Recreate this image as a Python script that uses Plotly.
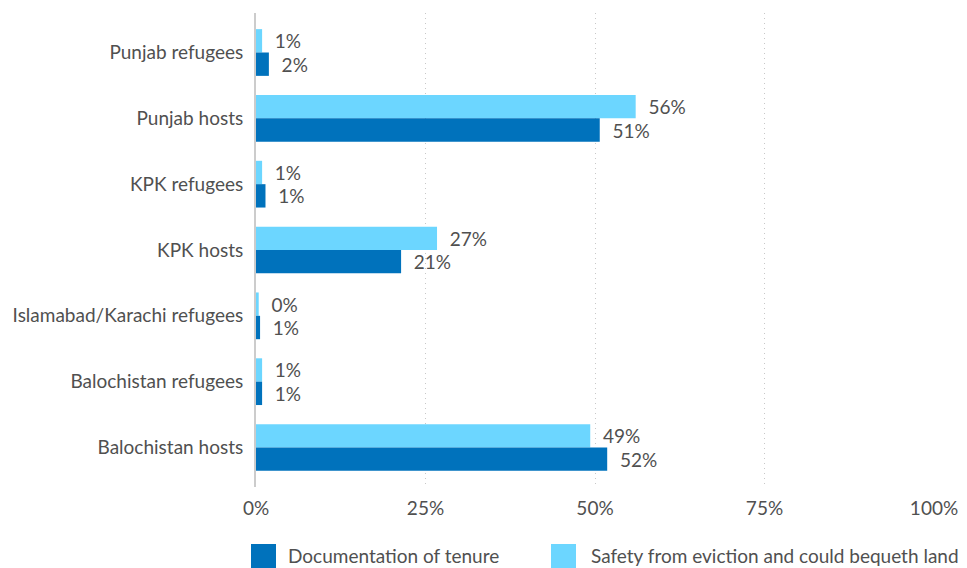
import plotly.graph_objects as go

categories = ["Punjab refugees", "Punjab hosts", "KPK refugees", "KPK hosts",
              "Islamabad/Karachi refugees", "Balochistan refugees", "Balochistan hosts"]
documentation = [1.9, 50.7, 1.4, 21.4, 0.6, 0.9, 51.8]
safety = [0.9, 56.0, 0.9, 26.7, 0.4, 0.9, 49.3]
series_names = ["Documentation of tenure", "Safety from eviction and could bequeth land"]
x_ticks = [0, 25, 50, 75, 100]
x_ticklabels = ["0%", "25%", "50%", "75%", "100%"]

DARK = "#0072BC"
LIGHT = "#6CD6FF"
TEXT = "#505050"
FONT = "Lato"
FS = 19

fig = go.Figure()
pad = "\u00a0\u00a0"
fig.add_trace(go.Bar(
    y=categories, x=safety, orientation="h", name=series_names[1],
    marker=dict(color=LIGHT, line=dict(width=0)),
    texttemplate=pad + "%{x:.0f}%", textposition="outside",
    textfont=dict(family=FONT, size=FS, color=TEXT), cliponaxis=False,
    showlegend=False,
))
fig.add_trace(go.Bar(
    y=categories, x=documentation, orientation="h", name=series_names[0],
    marker=dict(color=DARK, line=dict(width=0)),
    texttemplate=pad + "%{x:.0f}%", textposition="outside",
    textfont=dict(family=FONT, size=FS, color=TEXT), cliponaxis=False,
    showlegend=False,
))

fig.update_layout(
    width=967, height=568,
    margin=dict(l=256, r=33, t=13, b=81, autoexpand=False),
    paper_bgcolor="white", plot_bgcolor="white",
    barmode="group", bargap=0.29, bargroupgap=0,
    font=dict(family=FONT, size=FS, color=TEXT),
    uniformtext=dict(minsize=FS, mode="show"),
    xaxis=dict(
        range=[0, 100], tickvals=x_ticks, ticktext=x_ticklabels,
        showgrid=True, gridcolor="#c8c8c8", gridwidth=1, griddash="1px,4px",
        zeroline=False, showline=False, ticks="", ticklabelstandoff=8,
        tickfont=dict(family=FONT, size=FS, color=TEXT),
    ),
    yaxis=dict(
        type="category", categoryorder="array", categoryarray=categories,
        range=[6.6, -0.6], showgrid=False, zeroline=False,
        showline=True, linecolor="#cccccc", linewidth=2,
        ticks="", ticklabelstandoff=7,
        tickfont=dict(family=FONT, size=FS, color=TEXT),
    ),
)

# custom legend (swatches + labels) below plot
legend_items = [(series_names[0], DARK, -5, 30), (series_names[1], LIGHT, 295, 333)]
for name, color, sx, tx in legend_items:
    fig.add_shape(type="rect", xref="paper", yref="paper",
                  xsizemode="pixel", ysizemode="pixel", xanchor=0, yanchor=0,
                  x0=sx, x1=sx + 25, y0=-57, y1=-81,
                  fillcolor=color, line=dict(width=0))
    fig.add_annotation(text=name, xref="paper", yref="paper", x=0, y=0,
                       xshift=tx, yshift=-68, xanchor="left", yanchor="middle",
                       showarrow=False,
                       font=dict(family=FONT, size=FS, color=TEXT))

fig.write_html("out.html", config={"displayModeBar": False},
               post_script="document.body.style.margin='0';document.body.style.padding='0';")
